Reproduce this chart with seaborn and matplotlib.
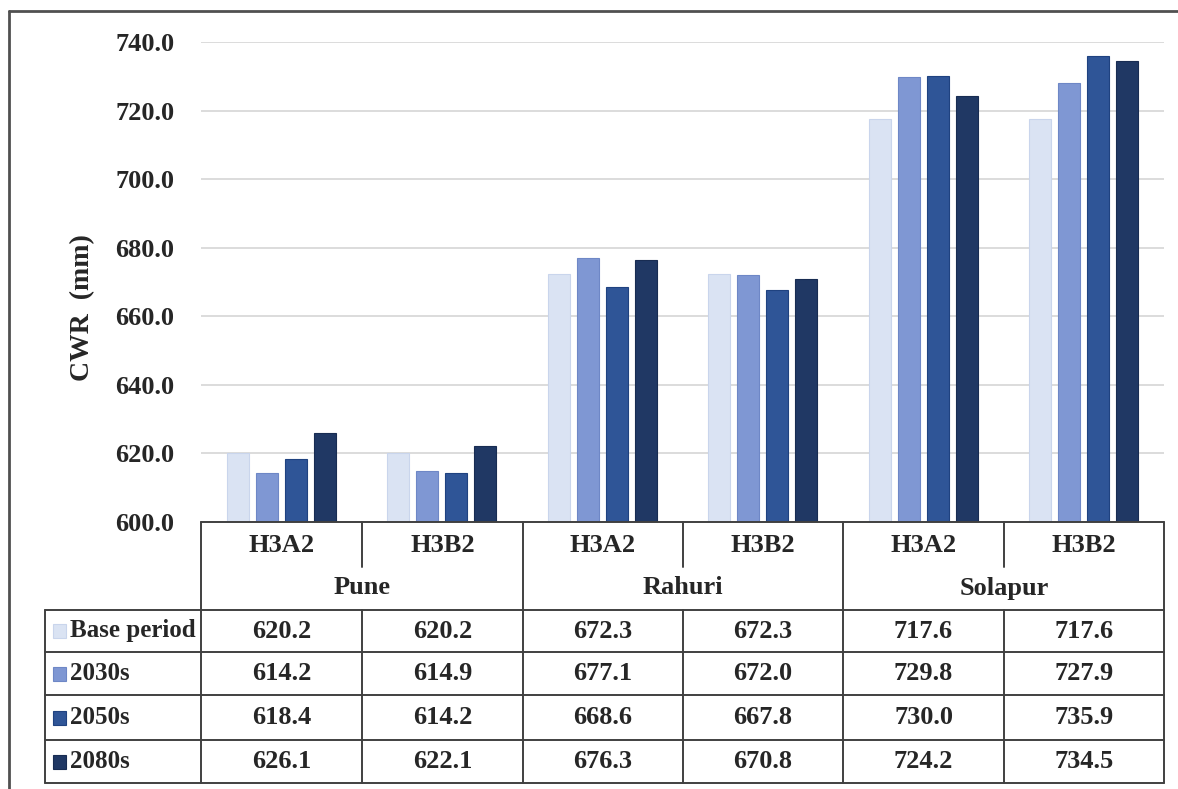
import numpy as np
import pandas as pd
import matplotlib
matplotlib.use("Agg")
import matplotlib.pyplot as plt
from matplotlib.lines import Line2D
from matplotlib.patches import Rectangle
import seaborn as sns

# ---- data -------------------------------------------------------------
sites = ["Pune", "Rahuri", "Solapur"]
scenarios = ["H3A2", "H3B2"]
periods = ["Base period", "2030s", "2050s", "2080s"]

base_period = [620.2, 620.2, 672.3, 672.3, 717.6, 717.6]
cwr_2030s = [614.2, 614.9, 677.1, 672.0, 729.8, 727.9]
cwr_2050s = [618.4, 614.2, 668.6, 667.8, 730.0, 735.9]
cwr_2080s = [626.1, 622.1, 676.3, 670.8, 724.2, 734.5]

yticks = [600, 620, 640, 660, 680, 700, 720, 740]

colors = ["#DAE3F3", "#7F97D3", "#2F5597", "#203864"]
edges = ["#C9D5EC", "#6E87C6", "#1F4280", "#182C52"]

series = [base_period, cwr_2030s, cwr_2050s, cwr_2080s]
cols = [f"{s}|{sc}" for s in sites for sc in scenarios]
df = pd.DataFrame(
    [(c, p, v) for p, vals in zip(periods, series) for c, v in zip(cols, vals)],
    columns=["column", "period", "cwr"],
)

# ---- figure -----------------------------------------------------------
W, H = 1178, 789
sns.set_theme(style="white")
plt.rcParams["font.family"] = ["Liberation Serif", "DejaVu Serif"]
plt.rcParams["font.weight"] = "bold"

fig = plt.figure(figsize=(W / 100, H / 100), dpi=100)


def fx(x):
    return x / W


def fy(y):
    return 1 - y / H


ax_l, ax_r, ax_t, ax_b = 201, 1164, 42, 522
ax = fig.add_axes([fx(ax_l), fy(ax_b), fx(ax_r) - fx(ax_l), fy(ax_t) - fy(ax_b)])

sns.barplot(
    data=df, x="column", y="cwr", hue="period", order=cols, hue_order=periods,
    palette=colors, saturation=1, width=0.72, gap=0.24, legend=False, ax=ax,
    err_kws={"linewidth": 0},
)
for i, cont in enumerate(ax.containers):
    for patch in cont.patches:
        patch.set_edgecolor(edges[i])
        patch.set_linewidth(0.8)

ax.set_ylim(600, 740)
ax.set_yticks(yticks)
ax.set_yticklabels([f"{t:.1f}" for t in yticks], fontsize=19, fontweight="bold")
ax.tick_params(axis="y", length=0, pad=19)
ax.set_xticks([])
ax.set_xlabel("")
ax.set_ylabel("CWR  (mm)", fontsize=20, fontweight="bold")
ax.yaxis.set_label_coords((83 - ax_l) / (ax_r - ax_l), (ax_b - 308) / (ax_b - ax_t))
ax.yaxis.label.set_va("center")
ax.yaxis.grid(True, color="#D9D9D9", linewidth=1.3)
ax.set_axisbelow(True)
for sp in ax.spines.values():
    sp.set_visible(False)

# ---- data table under the axis -------------------------------------------
line_c = "#404040"
lw = 1.4
col_x = [201, 362, 523, 683, 843, 1004, 1164]
tab_left = 45
row_y = [610, 652, 695, 740, 783]


def hline(x0, x1, y):
    fig.add_artist(Line2D([fx(x0), fx(x1)], [fy(y), fy(y)], color=line_c, lw=lw))


def vline(x, y0, y1):
    fig.add_artist(Line2D([fx(x), fx(x)], [fy(y0), fy(y1)], color=line_c, lw=lw))


hline(ax_l, ax_r, ax_b)
for y in row_y:
    hline(tab_left, col_x[-1], y)
vline(tab_left, row_y[0], row_y[-1])
for k, x in enumerate(col_x):
    if k % 2 == 0:
        vline(x, ax_b, row_y[-1])
    else:
        vline(x, ax_b, 567)
        vline(x, row_y[0], row_y[-1])

fs = 19
for j, c in enumerate(cols):
    xc = (col_x[j] + col_x[j + 1]) / 2
    fig.text(fx(xc), fy(545), c.split("|")[1], ha="center", va="center",
             fontsize=fs, fontweight="bold")
    for r, vals in enumerate(series):
        yc = (row_y[r] + row_y[r + 1]) / 2
        fig.text(fx(xc), fy(yc), f"{vals[j]:.1f}", ha="center", va="center",
                 fontsize=fs, fontweight="bold")
for s_i, s in enumerate(sites):
    xc = col_x[2 * s_i + 1]
    fig.text(fx(xc), fy(588), s, ha="center", va="center",
             fontsize=fs, fontweight="bold")

# legend keys in the first table column
for r, p in enumerate(periods):
    yc = (row_y[r] + row_y[r + 1]) / 2
    fig.add_artist(Rectangle((fx(53), fy(yc + 7)), fx(13), 14 / H,
                             facecolor=colors[r], edgecolor=edges[r], lw=0.8))
    fig.text(fx(70), fy(yc), p, ha="left", va="center",
             fontsize=18, fontweight="bold")

# outer frame (top and left edges)
fig.add_artist(Line2D([fx(9), 1], [fy(11), fy(11)], color="#505050", lw=2))
fig.add_artist(Line2D([fx(9), fx(9)], [fy(11), 0], color="#505050", lw=2))

fig.savefig("out.png", dpi=100)
